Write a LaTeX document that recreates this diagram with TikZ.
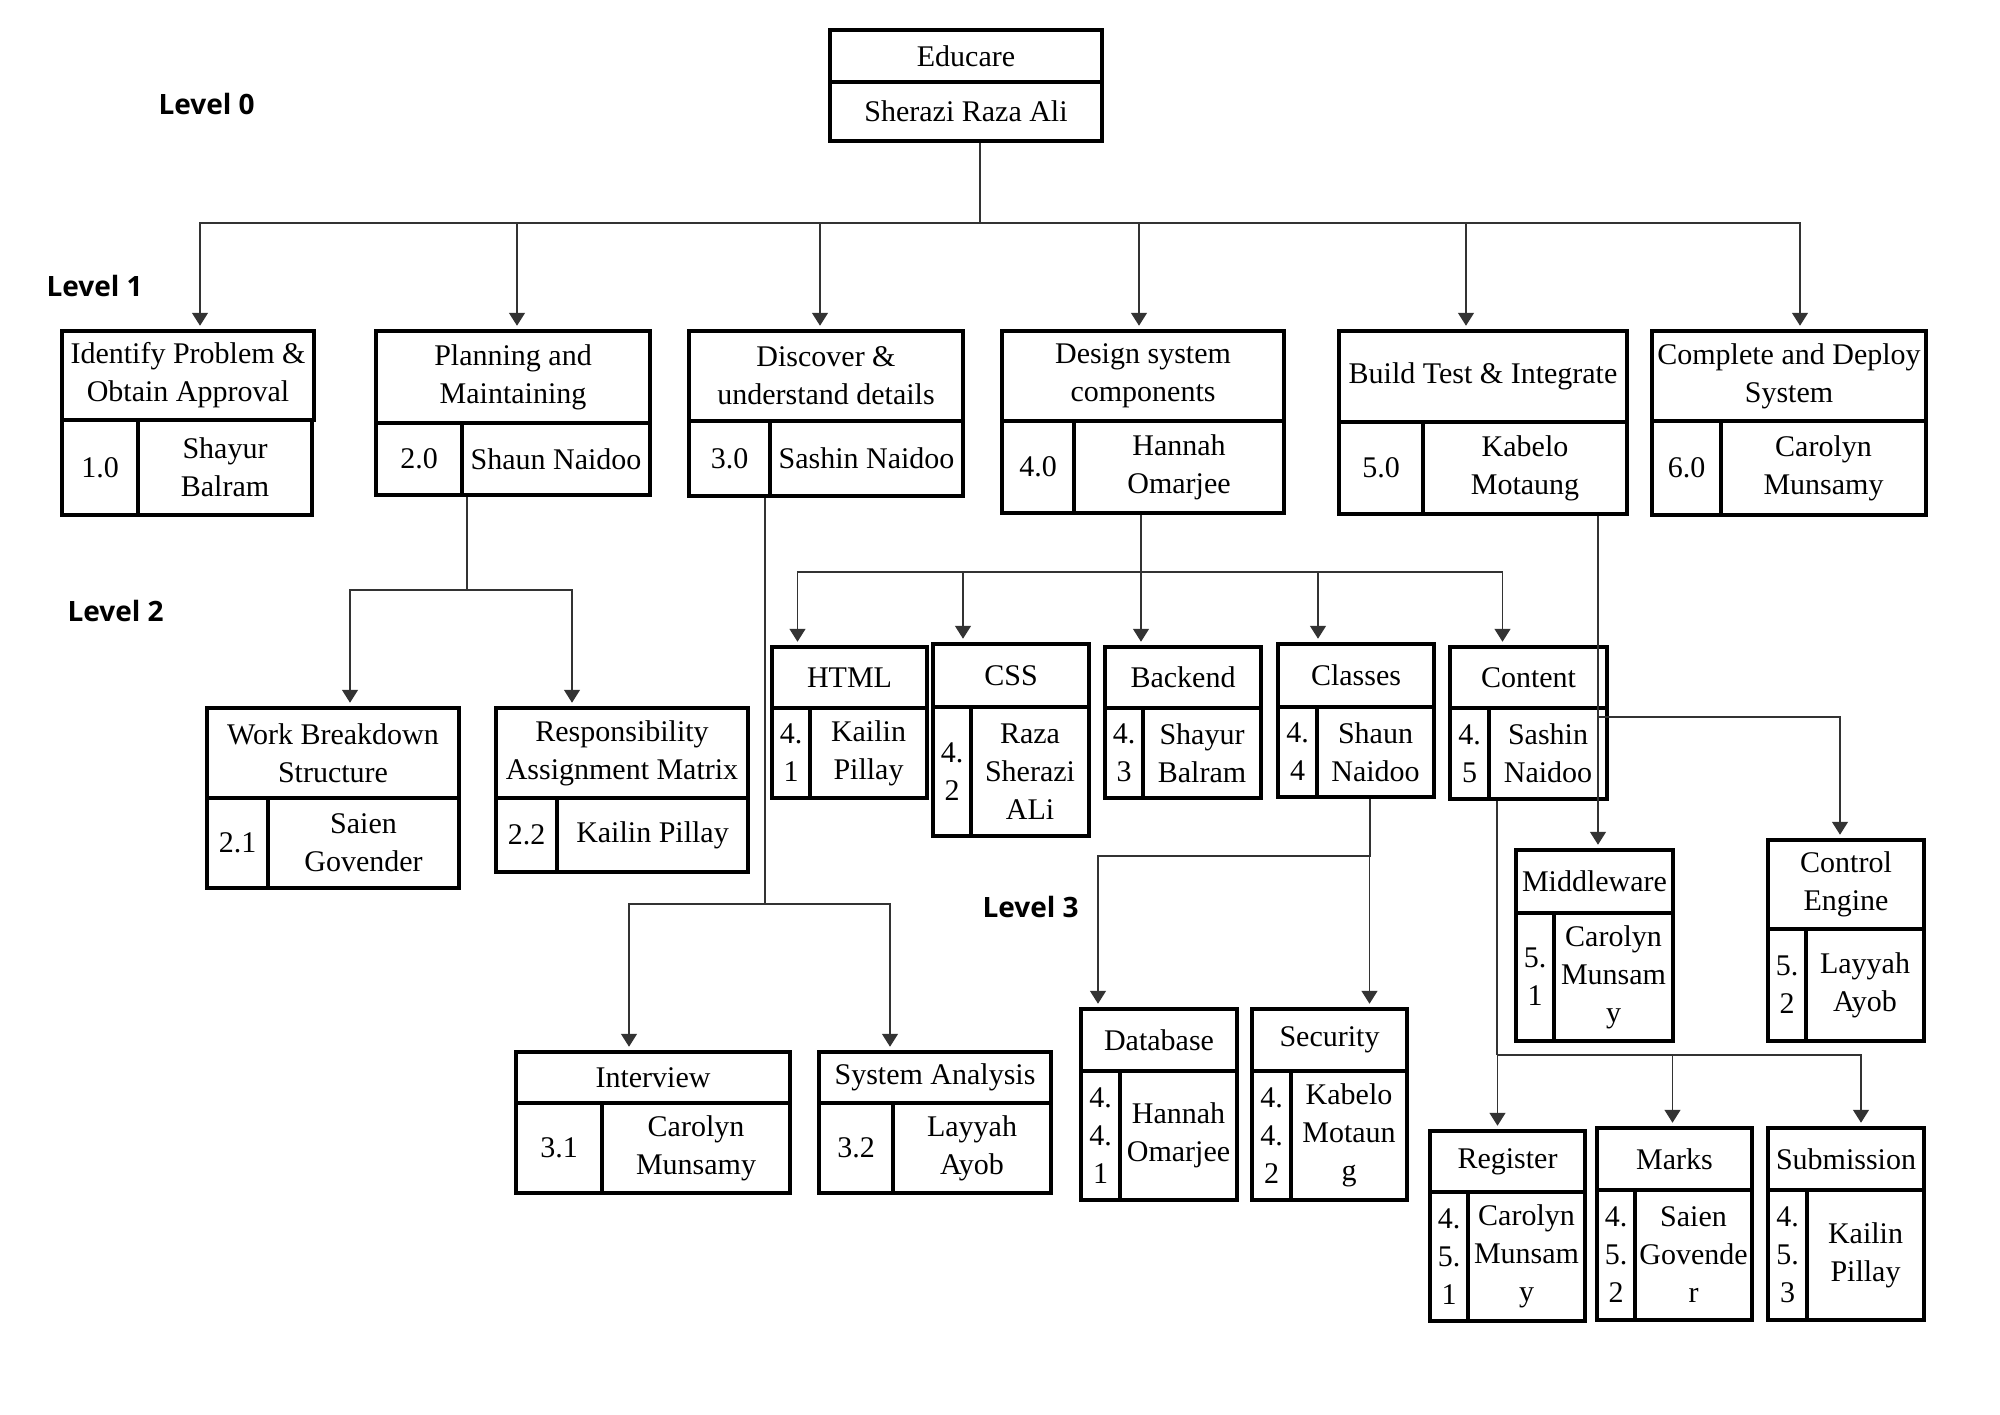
\documentclass[tikz,border=0pt]{standalone}
\usepackage{fontspec}
\setmainfont{Liberation Serif}
\newfontfamily\levelfont{Open Sans}
\usetikzlibrary{arrows.meta}

\tikzset{
  cell/.style={draw, line width=4.5pt, inner sep=0pt, align=center, font=\fontsize{30}{38}\selectfont},
  conn/.style={draw=black!80, line width=1.5pt},
  arr/.style={conn, -{Triangle[length=13pt,width=16pt]}, shorten >=3pt},
  levellabel/.style={anchor=west, font=\levelfont\bfseries\fontsize{28}{34}\selectfont}
}

% one rectangle of a work package: name, left, top, right, bottom, text
\newcommand{\wbscell}[6]{%
  \node[cell, minimum width={#4-#2}, minimum height={#5-#3}] (#1) at ({(#2+#4)/2},{(#3+#5)/2}) {#6};}

\begin{document}
\begin{tikzpicture}[x=1pt,y=-1pt]
  \useasboundingbox (0,0) rectangle (2000,1414);

  \node[levellabel] (lv0) at (155,104) {Level 0};
  \node[levellabel] (lv1) at (43,286) {Level 1};
  \node[levellabel] (lv2) at (64,611) {Level 2};
  \node[levellabel] (lv3) at (979,907) {Level 3};

  % level 0
  \wbscell{educare}{830}{30}{1102}{82}{Educare}
  \wbscell{educare-who}{830}{82}{1102}{141}{Sherazi Raza Ali}

  % level 1
  \wbscell{identify}{62}{331}{314}{420}{Identify Problem \&\\Obtain Approval}
  \wbscell{identify-num}{62}{420}{138}{515}{1.0}
  \wbscell{identify-who}{138}{420}{312}{515}{Shayur\\Balram}

  \wbscell{planning}{376}{331}{650}{423}{Planning and\\Maintaining}
  \wbscell{planning-num}{376}{423}{462}{495}{2.0}
  \wbscell{planning-who}{462}{423}{650}{495}{Shaun Naidoo}

  \wbscell{discover}{689}{331}{963}{421}{Discover \&\\understand details}
  \wbscell{discover-num}{689}{421}{770}{496}{3.0}
  \wbscell{discover-who}{770}{421}{963}{496}{Sashin Naidoo}

  \wbscell{design}{1002}{331}{1284}{421}{Design system\\components}
  \wbscell{design-num}{1002}{421}{1074}{513}{4.0}
  \wbscell{design-who}{1074}{421}{1284}{513}{Hannah\\Omarjee}

  \wbscell{build}{1339}{331}{1627}{422}{Build Test \& Integrate}
  \wbscell{build-num}{1339}{422}{1423}{514}{5.0}
  \wbscell{build-who}{1423}{422}{1627}{514}{Kabelo\\Motaung}

  \wbscell{deploy}{1652}{331}{1926}{421}{Complete and Deploy\\System}
  \wbscell{deploy-num}{1652}{421}{1721}{515}{6.0}
  \wbscell{deploy-who}{1721}{421}{1926}{515}{Carolyn\\Munsamy}

  % level 2
  \wbscell{wbs}{207}{708}{459}{798}{Work Breakdown\\Structure}
  \wbscell{wbs-num}{207}{798}{268}{888}{2.1}
  \wbscell{wbs-who}{268}{798}{459}{888}{Saien\\Govender}

  \wbscell{ram}{496}{708}{748}{798}{Responsibility\\Assignment Matrix}
  \wbscell{ram-num}{496}{798}{557}{872}{2.2}
  \wbscell{ram-who}{557}{798}{748}{872}{Kailin Pillay}

  \wbscell{html}{772}{647}{927}{708}{HTML}
  \wbscell{html-num}{772}{708}{810}{798}{4.\\1}
  \wbscell{html-who}{810}{708}{927}{798}{Kailin\\Pillay}

  \wbscell{css}{933}{644}{1089}{707}{CSS}
  \wbscell{css-num}{933}{707}{971}{836}{4.\\2}
  \wbscell{css-who}{971}{707}{1089}{836}{Raza\\Sherazi\\ALi}

  \wbscell{backend}{1105}{647}{1261}{708}{Backend}
  \wbscell{backend-num}{1105}{708}{1143}{798}{4.\\3}
  \wbscell{backend-who}{1143}{708}{1261}{798}{Shayur\\Balram}

  \wbscell{classes}{1278}{644}{1434}{707}{Classes}
  \wbscell{classes-num}{1278}{707}{1317}{797}{4.\\4}
  \wbscell{classes-who}{1317}{707}{1434}{797}{Shaun\\Naidoo}

  \wbscell{content}{1450}{647}{1607}{708}{Content}
  \wbscell{content-num}{1450}{708}{1489}{799}{4.\\5}
  \wbscell{content-who}{1489}{708}{1607}{799}{Sashin\\Naidoo}

  % level 3
  \wbscell{interview}{516}{1052}{790}{1103}{Interview}
  \wbscell{interview-num}{516}{1103}{602}{1193}{3.1}
  \wbscell{interview-who}{602}{1103}{790}{1193}{Carolyn\\Munsamy}

  \wbscell{analysis}{819}{1052}{1051}{1103}{System Analysis}
  \wbscell{analysis-num}{819}{1103}{893}{1193}{3.2}
  \wbscell{analysis-who}{893}{1103}{1051}{1193}{Layyah\\Ayob}

  \wbscell{database}{1081}{1009}{1237}{1071}{Database}
  \wbscell{database-num}{1081}{1071}{1120}{1200}{4.\\4.\\1}
  \wbscell{database-who}{1120}{1071}{1237}{1200}{Hannah\\Omarjee}

  \wbscell{security}{1252}{1009}{1407}{1071}{Security}
  \wbscell{security-num}{1252}{1071}{1291}{1200}{4.\\4.\\2}
  \wbscell{security-who}{1291}{1071}{1407}{1200}{Kabelo\\Motaun\\g}

  \wbscell{middleware}{1516}{850}{1673}{913}{Middleware}
  \wbscell{middleware-num}{1516}{913}{1554}{1041}{5.\\1}
  \wbscell{middleware-who}{1554}{913}{1673}{1041}{Carolyn\\Munsam\\y}

  \wbscell{control}{1768}{840}{1924}{929}{Control\\Engine}
  \wbscell{control-num}{1768}{929}{1806}{1041}{5.\\2}
  \wbscell{control-who}{1806}{929}{1924}{1041}{Layyah\\Ayob}

  \wbscell{register}{1430}{1131}{1585}{1192}{Register}
  \wbscell{register-num}{1430}{1192}{1468}{1321}{4.\\5.\\1}
  \wbscell{register-who}{1468}{1192}{1585}{1321}{Carolyn\\Munsam\\y}

  \wbscell{marks}{1597}{1128}{1752}{1190}{Marks}
  \wbscell{marks-num}{1597}{1190}{1635}{1320}{4.\\5.\\2}
  \wbscell{marks-who}{1635}{1190}{1752}{1320}{Saien\\Govende\\r}

  \wbscell{submission}{1768}{1128}{1924}{1190}{Submission}
  \wbscell{submission-num}{1768}{1190}{1807}{1320}{4.\\5.\\3}
  \wbscell{submission-who}{1807}{1190}{1924}{1320}{Kailin\\Pillay}

  % junctions
  \coordinate (j0) at (980,223);
  \coordinate (j2) at (467,590);
  \coordinate (j3) at (765,904);
  \coordinate (j4) at (1141,572);
  \coordinate (j44) at (1370,856);
  \coordinate (j5) at (1598,717);
  \coordinate (j45) at (1497,1055);

  \draw[conn] (educare-who.south -| j0) -- (j0);
  \draw[arr] (j0) -| ([xshift=12pt]identify.north);
  \draw[arr] (j0) -| ([xshift=4pt]planning.north);
  \draw[arr] (j0) -| ([xshift=-6pt]discover.north);
  \draw[arr] (j0) -| ([xshift=-4pt]design.north);
  \draw[arr] (j0) -| ([xshift=-17pt]build.north);
  \draw[arr] (j0) -| ([xshift=11pt]deploy.north);

  \draw[conn] (planning-who.south -| j2) -- (j2);
  \draw[arr] (j2) -| ([xshift=17pt]wbs.north);
  \draw[arr] (j2) -| ([xshift=-50pt]ram.north);

  \draw[conn] (discover-who.south -| j3) -- (j3);
  \draw[arr] (j3) -| ([xshift=-24pt]interview.north);
  \draw[arr] (j3) -| ([xshift=-45pt]analysis.north);

  \draw[conn] (design-who.south -| j4) -- (j4);
  \draw[arr] (j4) -| ([xshift=-52pt]html.north);
  \draw[arr] (j4) -| ([xshift=-48pt]css.north);
  \draw[arr] (j4) -| ([xshift=-42pt]backend.north);
  \draw[arr] (j4) -| ([xshift=-38pt]classes.north);
  \draw[arr] (j4) -| ([xshift=-26pt]content.north);

  \draw[conn] (classes-who.south -| j44) -- (j44);
  \draw[arr] (j44) -| ([xshift=-61pt]database.north);
  \draw[arr] (j44) -| ([xshift=40pt]security.north);

  \draw[arr] (build-who.south -| j5) -- (middleware.north -| j5);
  \draw[arr] (j5) -| ([xshift=-6pt]control.north);

  \draw[conn] (content-who.south -| j45) -- (j45);
  \draw[arr] (j45) -| ([xshift=-10pt]register.north);
  \draw[arr] (j45) -| ([xshift=-2pt]marks.north);
  \draw[arr] (j45) -| ([xshift=15pt]submission.north);
\end{tikzpicture}
\end{document}
